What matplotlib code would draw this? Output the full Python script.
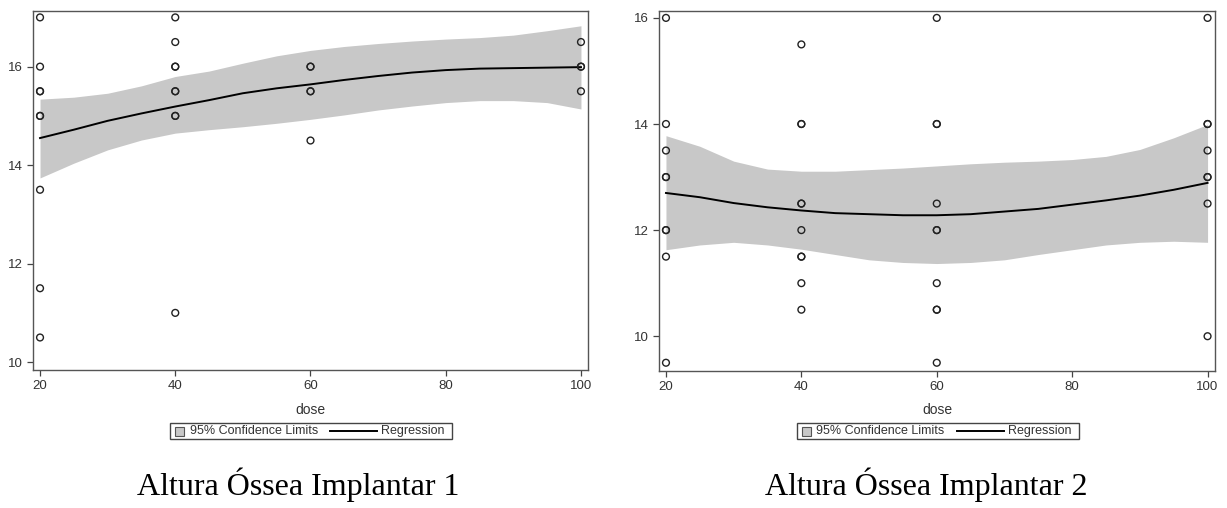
import matplotlib
matplotlib.use("Agg")
import matplotlib.pyplot as plt
from matplotlib.patches import Rectangle
from matplotlib.lines import Line2D

# ---- data ----
dose_1 = [20]*9 + [40]*9 + [60]*5 + [100]*4
height_1 = [17, 16, 15.5, 15.5, 15, 15, 13.5, 11.5, 10.5,
            17, 16.5, 16, 16, 15.5, 15.5, 15, 15, 11,
            16, 16, 15.5, 15.5, 14.5,
            16.5, 16, 16, 15.5]

dose_2 = [20]*9 + [40]*10 + [60]*10 + [100]*8
height_2 = [16, 14, 13.5, 13, 13, 12, 12, 11.5, 9.5,
            15.5, 14, 14, 12.5, 12.5, 12, 11.5, 11.5, 11, 10.5,
            16, 14, 14, 12.5, 12, 12, 11, 10.5, 10.5, 9.5,
            16, 14, 14, 13.5, 13, 13, 12.5, 10]

fit_dose = [20, 25, 30, 35, 40, 45, 50, 55, 60, 65, 70, 75, 80, 85, 90, 95, 100]

fit_1 = [14.55, 14.72, 14.90, 15.05, 15.19, 15.32, 15.46, 15.56, 15.64,
         15.73, 15.81, 15.88, 15.93, 15.96, 15.97, 15.98, 15.99]
upper_1 = [15.34, 15.38, 15.46, 15.61, 15.80, 15.91, 16.07, 16.22, 16.33,
           16.41, 16.47, 16.52, 16.56, 16.59, 16.64, 16.73, 16.83]
lower_1 = [13.74, 14.04, 14.31, 14.51, 14.65, 14.72, 14.78, 14.85, 14.93,
           15.02, 15.12, 15.20, 15.27, 15.31, 15.31, 15.27, 15.14]

fit_2 = [12.70, 12.62, 12.51, 12.43, 12.37, 12.32, 12.30, 12.28, 12.28,
         12.30, 12.35, 12.40, 12.48, 12.56, 12.65, 12.76, 12.89]
upper_2 = [13.78, 13.58, 13.30, 13.15, 13.11, 13.11, 13.14, 13.17, 13.21,
           13.25, 13.28, 13.30, 13.33, 13.39, 13.52, 13.74, 13.99]
lower_2 = [11.63, 11.72, 11.77, 11.72, 11.64, 11.54, 11.44, 11.39, 11.37,
           11.39, 11.44, 11.54, 11.63, 11.72, 11.77, 11.79, 11.77]

x_ticks = [20, 40, 60, 80, 100]
y_ticks = [10, 12, 14, 16]
titles = ["Altura Óssea Implantar 1", "Altura Óssea Implantar 2"]
x_label = "dose"
legend_labels = ["95% Confidence Limits", "Regression"]

# ---- figure ----
plt.rcParams['font.family'] = ['Liberation Sans', 'DejaVu Sans']
W, H = 1227, 508
fig = plt.figure(figsize=(W/100, H/100), dpi=100)

band_col = "#c8c8c8"
txt_col = "#333333"


def fx(px):
    return px / W


def fy(py):
    return 1 - py / H


panels = [
    dict(rect=(33, 11, 588, 370), x=dose_1, y=height_1, fit=fit_1, up=upper_1, lo=lower_1,
         xlim=(18.96, 101.04), ylim=(9.84, 17.13), title_x=298),
    dict(rect=(659, 11, 1215, 370.7), x=dose_2, y=height_2, fit=fit_2, up=upper_2, lo=lower_2,
         xlim=(18.97, 101.1), ylim=(9.35, 16.13), title_x=926),
]

for i, p in enumerate(panels):
    x0, y0, x1, y1 = p["rect"]
    ax = fig.add_axes([x0/W, 1 - y1/H, (x1-x0)/W, (y1-y0)/H])
    ax.fill_between(fit_dose, p["lo"], p["up"], color=band_col, lw=0, zorder=1)
    ax.plot(fit_dose, p["fit"], color="black", lw=1.4, zorder=3)
    ax.scatter(p["x"], p["y"], s=24, facecolors="none", edgecolors="#222222",
               linewidths=1.0, zorder=4)
    ax.set_xlim(*p["xlim"])
    ax.set_ylim(*p["ylim"])
    ax.set_xticks(x_ticks)
    ax.set_yticks(y_ticks)
    ax.tick_params(direction="out", length=4.5, width=0.9, colors="#444444",
                   labelcolor=txt_col, labelsize=9.5, pad=3)
    for s in ax.spines.values():
        s.set_color("#555555")
        s.set_linewidth(1.0)
    ax.set_xlabel(x_label, fontsize=10, color=txt_col, va="center")
    ax.xaxis.set_label_coords(0.5, -(410 - y1) / (y1 - y0))

    # legend (drawn as a framed box below the axis label)
    cx = (x0 + x1) / 2
    lx0, lx1 = cx - 140.5, cx + 141.5
    ly0, ly1, lyc = 423, 439, 431
    fig.patches.append(Rectangle((fx(lx0), fy(ly1)), fx(lx1 - lx0), (ly1 - ly0) / H,
                                 transform=fig.transFigure, facecolor="white",
                                 edgecolor="#444444", lw=1.0))
    fig.patches.append(Rectangle((fx(lx0 + 5), fy(lyc + 4.5)), fx(9), 9 / H,
                                 transform=fig.transFigure, facecolor=band_col,
                                 edgecolor="#555555", lw=0.8))
    fig.text(fx(lx0 + 20), fy(lyc), legend_labels[0], ha="left", va="center",
             fontsize=9, color=txt_col)
    fig.lines.append(Line2D([fx(lx0 + 160), fx(lx0 + 207)], [fy(lyc), fy(lyc)],
                            transform=fig.transFigure, color="black", lw=1.4))
    fig.text(fx(lx1 - 7), fy(lyc), legend_labels[1], ha="right", va="center",
             fontsize=9, color=txt_col)

    fig.text(p["title_x"]/W, fy(485), titles[i], ha="center", va="center",
             fontsize=23, family="Liberation Serif", color="black")

fig.savefig("out.png", dpi=100)
